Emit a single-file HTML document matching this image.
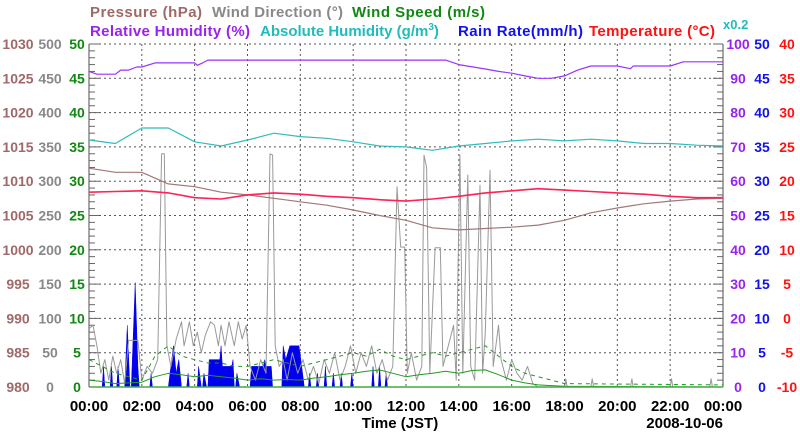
<!DOCTYPE html>
<html><head><meta charset="utf-8">
<style>
html,body{margin:0;padding:0;background:#fff;}
svg{display:block;font-family:"Liberation Sans",sans-serif;font-weight:bold;}
</style></head>
<body>
<svg id="chart" width="800" height="434" viewBox="0 0 800 434" xmlns="http://www.w3.org/2000/svg">
<g font-size="15">
<text x="90" y="17" fill="#a06868" textLength="112">Pressure (hPa)</text>
<text x="212" y="17" fill="#888" textLength="131">Wind Direction (°)</text>
<text x="352" y="17" fill="#118811" textLength="133">Wind Speed (m/s)</text>
<text x="90" y="36" fill="#9922ee" textLength="160">Relative Humidity (%)</text>
<text x="260" y="36" fill="#22bbbb">Absolute Humidity (g/m<tspan dy="-6" font-size="10">3</tspan><tspan dy="6">)</tspan></text>
<text x="458" y="36" fill="#1111ee" textLength="125">Rain Rate(mm/h)</text>
<text x="589" y="36" fill="#ff1111" textLength="126">Temperature (°C)</text>
<text x="723" y="29" fill="#22bbbb" font-size="13">x0.2</text>
</g>
<g id="grid"></g>
<g id="axes"></g>
<g id="series"></g>
<text x="400" y="428" text-anchor="middle" font-size="15">Time (JST)</text>
<text x="723" y="428" text-anchor="end" font-size="15">2008-10-06</text>
</svg>
<script>
const xTickLabels=["00:00","02:00","04:00","06:00","08:00","10:00","12:00","14:00","16:00","18:00","20:00","22:00","00:00"];
const pressureTicks=[980,985,990,995,1000,1005,1010,1015,1020,1025,1030];
const windDirTicks=[0,50,100,150,200,250,300,350,400,450,500];
const windSpdTicks=[0,5,10,15,20,25,30,35,40,45,50];
const rhTicks=[0,10,20,30,40,50,60,70,80,90,100];
const rainTicks=[0,5,10,15,20,25,30,35,40,45,50];
const tempTicks=[-10,-5,0,5,10,15,20,25,30,35,40];

const hourTimes=[0,1,2,3,4,5,6,7,8,9,10,11,12,13,14,15,16,17,18,19,20,21,22,23,24];
const pressureValues=[1011.9,1011.3,1011.3,1009.6,1009.2,1008.4,1008,1007.5,1007,1006.5,1005.8,1005,1004.3,1003.2,1002.9,1003.1,1003.3,1003.6,1004.3,1005.4,1006.1,1006.7,1007.1,1007.4,1007.5];
const tempValues=[18.4,18.5,18.6,18.3,17.6,17.4,18,18.3,18.1,17.8,17.6,17.3,17.1,17.4,17.8,18.3,18.6,18.9,18.7,18.5,18.3,18.1,17.8,17.6,17.6];
const absHumValues=[14.4,14.2,15.1,15.1,14.3,14.05,14.4,14.8,14.6,14.5,14.3,14.05,14.0,13.8,14.05,14.2,14.35,14.45,14.35,14.45,14.35,14.2,14.2,14.1,14.05];
const rhTimes=[0,0.3,1,1.2,1.5,1.8,2,2.5,4,4.1,4.3,4.5,8,13.5,14,15,15.5,16,16.5,17,17.5,18,18.5,19,20,20.5,20.6,22,22.5,24];
const rhValues=[92,91.2,91.2,92.4,92.4,93.3,93.3,94.5,94.5,93.8,94.5,95.3,95.3,95.3,94,92.7,92,91.5,90.7,90,90,90.7,92.4,93.6,93.6,92.8,93.6,93.6,94.8,94.8];
const windSpdTimes=[0,0.5,1,1.5,2,2.5,3,3.5,4,4.5,5,5.5,6,6.5,7,7.5,8,8.5,9,9.5,10,10.5,11,11.5,12,12.5,13,13.5,14,14.5,15,15.5,16,16.5,17,17.5,18,24];
const windSpdValues=[1,0.8,0.5,0.6,0.7,1.5,2,1.8,1.5,1.7,1.5,1.3,1,1.2,1,1.1,1,1.3,1.5,1.8,2,2.3,2.5,2,1.5,1.8,2,2.3,2,2.4,2.5,1.8,1,0.6,0.3,0.2,0.1,0];
const gustValues=[4,3,2,1.5,1,4.5,6,4.5,4,3.5,3.5,3,3,3.5,4,3.5,3,3.5,4,4.5,5,4.5,5.5,4.5,4,4.5,5,4.5,5,5.5,6,4.5,3,2,1.5,1,0.5,0.3];
const windDirTimes=[0,0.15,0.3,0.45,0.6,0.75,0.9,1.05,1.2,1.35,1.5,1.85,2.0,2.2,2.4,2.6,2.75,2.85,2.95,3.1,3.3,3.5,3.6,3.8,3.95,4.1,4.25,4.4,4.6,4.75,4.9,5.0,5.15,5.3,5.5,5.65,5.8,5.95,6.1,6.3,6.5,6.7,6.85,6.95,7.05,7.2,7.35,7.5,7.7,7.9,8.1,8.3,8.5,8.7,8.9,9.1,9.3,9.5,9.7,9.9,10.1,10.3,10.5,10.7,10.9,11.1,11.3,11.5,11.66,11.8,11.95,12.05,12.2,12.4,12.6,12.68,12.78,12.9,13.1,13.3,13.4,13.6,13.8,13.9,14.04,14.15,14.34,14.45,14.6,14.8,14.9,15.0,15.18,15.3,15.5,15.6,15.8,16.0,16.2,16.4,16.6,16.8,17.0,18.0,18.05,18.1,19.0,19.05,19.1,20.5,20.55,20.6,22.0,22.05,22.1,23.5,23.55,23.6,24];
const windDirValues=[85,90,60,20,40,10,45,20,40,5,68,68,10,30,20,40,340,340,60,30,70,95,60,95,60,80,50,75,95,90,60,90,60,95,60,95,70,90,30,10,40,20,340,338,60,30,40,10,50,20,40,10,30,5,40,20,50,10,30,60,20,50,30,60,20,40,10,30,292,204,204,20,50,10,30,338,320,20,203,203,30,60,90,10,338,20,309,30,10,294,20,80,316,30,90,40,10,40,20,10,30,5,0,0,12,0,0,12,0,0,12,0,0,12,0,0,12,0,0];
const rainTimes=[0,0.5,0.55,0.6,0.8,0.85,0.9,1.05,1.1,1.15,1.35,1.45,1.55,1.6,1.75,1.85,1.9,2.3,2.35,2.4,3.0,3.1,3.2,3.3,3.4,3.5,3.7,3.75,3.8,4.1,4.15,4.25,4.3,4.35,4.45,4.5,4.55,4.95,5.0,5.05,5.4,5.45,5.5,5.55,5.6,5.7,6.1,6.15,6.6,6.65,6.7,6.9,6.95,7.3,7.35,7.45,7.6,7.95,8.05,8.15,8.3,8.35,8.4,8.6,8.65,8.7,8.9,8.95,9.0,9.2,9.25,9.3,9.5,9.55,9.6,9.9,9.95,10.0,10.7,10.75,10.8,10.95,11.0,11.05,11.2,11.25,11.3,24];
const rainValues=[0,0,3,0,0,3,0,0,3,0,0,9,0,0,15.2,3,0,0,2,0,0,3,6,2,4,0,0,2,0,0,3,0,0,2,0,0,4,4,6,3,3,4,0,0,2,0,0,3,3,4,3,3,0,0,6,4,6,6,3,0,0,2,0,0,2,0,0,3,0,0,2,0,0,2,0,0,2,0,0,3,0,0,3,0,0,2,0,0];

const NS="http://www.w3.org/2000/svg";
const L=89,R=723,T=44,B=387;
function xs(h){return L+h*(R-L)/24;}
function axis(min,max){return v=>B-(v-min)/(max-min)*(B-T);}
const yP=axis(980,1030),yWD=axis(0,500),yWS=axis(0,50),yRH=axis(0,100),yRain=axis(0,50),yT=axis(-10,40),yAH=axis(0,20);
function mk(tag,attrs,parent){const e=document.createElementNS(NS,tag);for(const k in attrs)e.setAttribute(k,attrs[k]);parent.appendChild(e);return e;}
const grid=document.getElementById('grid'),axes=document.getElementById('axes'),series=document.getElementById('series');

// grid
for(let i=1;i<=10;i++){const y=yRH(i*10);
 const g=mk('line',{x1:L,x2:R,y1:y,y2:y,stroke:'#555','stroke-dasharray':'2,3','stroke-width':1},grid);
 
 }
for(let i=1;i<12;i++){const x=xs(i*2);
 const g=mk('line',{x1:x,x2:x,y1:T,y2:B,stroke:'#555','stroke-dasharray':'2,3','stroke-width':1},grid);
 
 }
// frame + ticks
[L,R].forEach(x=>{const f=mk('line',{x1:x,x2:x,y1:T,y2:B,stroke:'#888','stroke-width':1.5},axes);
 
 });
for(let i=0;i<=50;i++){const y=B-i*(B-T)/50;const len=i%5===0?10:6;
 mk('line',{x1:L,x2:L+len,y1:y,y2:y,stroke:'#666','stroke-width':1},axes);
 mk('line',{x1:R-len,x2:R,y1:y,y2:y,stroke:'#666','stroke-width':1},axes);}
function lbl(txt,x,y,color,name){const t=mk('text',{x:x,y:y+5,fill:color,'font-size':14,'text-anchor':'middle'},axes);t.textContent=txt;
 
 }
pressureTicks.forEach(v=>lbl(v,18,yP(v),'#a06868','pressure-tick-label'));
windDirTicks.forEach(v=>lbl(v,50,yWD(v),'#888','wind-direction-tick-label'));
windSpdTicks.forEach(v=>lbl(v,77,yWS(v),'#118811','wind-speed-tick-label'));
rhTicks.forEach(v=>lbl(v,738,yRH(v),'#9922ee','rh-tick-label'));
rainTicks.forEach(v=>lbl(v,762,yRain(v),'#1111ee','rain-tick-label'));
tempTicks.forEach(v=>lbl(v,787,yT(v),'#ff1111','temperature-tick-label'));
xTickLabels.forEach((s,i)=>{const t=mk('text',{x:xs(i*2),y:411,fill:'#000','font-size':15,'text-anchor':'middle'},axes);t.textContent=s;
 
 });

function pts(ts,vs,yf){return ts.map((t,i)=>xs(t).toFixed(1)+','+yf(vs[i]).toFixed(1)).join(' ');}
// rain fill
const rp=mk('polygon',{points:xs(0)+','+B+' '+pts(rainTimes,rainValues,yRain)+' '+xs(24)+','+B,fill:'#0000ee',stroke:'#0000ee','stroke-width':0.5},series);


function line(ts,vs,yf,color,w,name,dash){const p=mk('polyline',{points:pts(ts,vs,yf),fill:'none',stroke:color,'stroke-width':w,'stroke-linejoin':'round'},series);
 if(dash)p.setAttribute('stroke-dasharray',dash);
 
 }
line(windDirTimes,windDirValues,yWD,'#999',1,'wind-direction-line');
line(windSpdTimes,gustValues,yWS,'#229922',1,'wind-gust-line','4,4');
line(windSpdTimes,windSpdValues,yWS,'#229922',1,'wind-speed-line');
line(hourTimes,pressureValues,yP,'#a07878',1.2,'pressure-line');
line(hourTimes,tempValues,yT,'#ff2255',1.6,'temperature-line');
line(hourTimes,absHumValues,yAH,'#33bbbb',1.2,'absolute-humidity-line');
line(rhTimes,rhValues,yRH,'#9933ff',1.2,'relative-humidity-line');
const bl=mk('line',{x1:L,x2:R,y1:B,y2:B,stroke:'#44aa44','stroke-width':1.5},series);


</script>
</body></html>
